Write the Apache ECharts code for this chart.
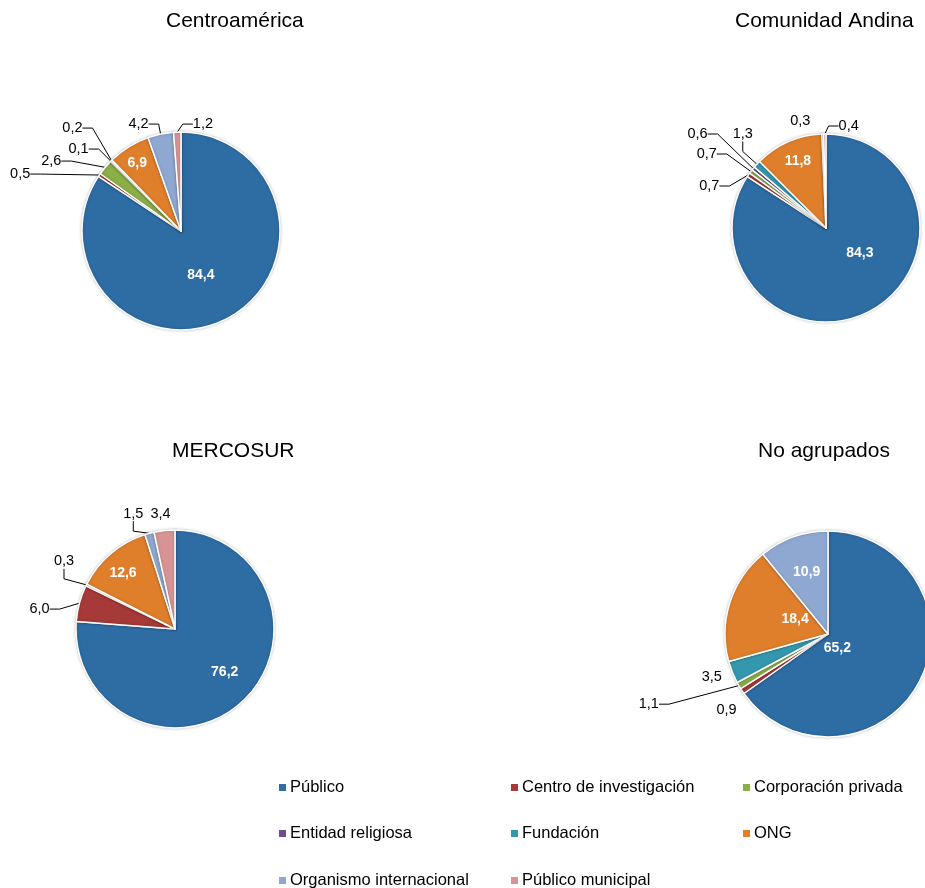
<!DOCTYPE html>
<html><head><meta charset="utf-8">
<script src="https://cdn.jsdelivr.net/npm/echarts@6/dist/echarts.min.js"></script>
<style>html,body{margin:0;padding:0;background:#fff}#c{width:925px;height:888px}</style>
</head><body><div id="c"></div>
<script>
// ---- data ----
const categories = ['Público','Centro de investigación','Corporación privada','Entidad religiosa','Fundación','ONG','Organismo internacional','Público municipal'];
const regions = ['Centroamérica','Comunidad Andina','MERCOSUR','No agrupados'];
const centroamerica   = [84.4, 0.5, 2.6, 0.1, 0.2, 6.9, 4.2, 1.2];
const comunidadAndina = [84.3, 0.7, 0.7, 0.6, 1.3, 11.8, 0.3, 0.4];
const mercosur        = [76.2, 6.0, 0, 0, 0.3, 12.6, 1.5, 3.4];
const noAgrupados     = [65.2, 0.9, 1.1, 0, 3.5, 18.4, 10.9, 0];
const regionValues = [centroamerica, comunidadAndina, mercosur, noAgrupados];

// ---- styles / layout ----
const colors = ['#2E6CA4','#A63A38','#8BAF47','#6E4D95','#3397AE','#DF7F2C','#8FA8D1','#D69594'];
const pieLayout = [
  {center:[181,231], radius:99,  titleLeft:166, titleTop:11},
  {center:[826,228], radius:94,  titleLeft:735, titleTop:11},
  {center:[175,629], radius:99,  titleLeft:172, titleTop:441},
  {center:[828,634], radius:103, titleLeft:758, titleTop:441}
];
// categories labelled inside (white bold) and their shift from default position
const insideShift = [
  {0:[-5,-2], 5:[-16,-23]},
  {0:[10,-19], 5:[-8,-21]},
  {0:[14,5], 5:[-18,-16]},
  {0:[-39,-11], 5:[19,2], 6:[-3,-11]}
];
// outside labels: shift from ECharts' default placement (like Excel's hand-placed labels)
const outsideShift = [
  {1:[-36,-35], 2:[-10,-31], 3:[9,-26], 4:[-10,-30], 6:[36,-17], 7:[51,0]},
  {1:[4,-25], 2:[-3,-40], 3:[-20,-43], 4:[13,-26], 6:[51,-22], 7:[49,0]},
  {1:[-12,8], 4:[5,-20], 6:[38,-26], 7:[22,-9]},
  {1:[16,1], 2:[-56,12], 4:[11,2]}
];
const noLine = [[], [6], [7], [1, 4]];
const legendCols = [279, 511, 743];
const legendRows = [787, 833, 880];
const FONT = 'Liberation Sans, Arial, sans-serif';

const fmt = v => v.toFixed(1).replace('.', ',');
const catOfItem = [];

const series = regionValues.map((vals, r) => {
  const data = [];
  catOfItem[r] = [];
  vals.forEach((v, i) => {
    if (!v) return;
    const shift = insideShift[r][i];
    const item = {name: categories[i], value: v, itemStyle: {color: colors[i]}};
    if (shift) {
      item.label = {position: 'inside', color: '#fff', fontWeight: 'bold', fontSize: 14, offset: shift};
      item.labelLine = {show: false};
    } else if (noLine[r].indexOf(i) >= 0) {
      item.labelLine = {show: false};
    }
    catOfItem[r].push(i);
    data.push(item);
  });
  return {
    type: 'pie',
    center: pieLayout[r].center,
    radius: pieLayout[r].radius,
    startAngle: 90,
    clockwise: true,
    avoidLabelOverlap: true,
    animation: false,
    itemStyle: {borderColor: '#fff', borderWidth: 1.5, shadowBlur: 3, shadowColor: 'rgba(0,0,0,0.22)'},
    label: {show: true, position: 'outside', formatter: p => fmt(p.value), color: '#000', fontSize: 14.5, fontFamily: FONT},
    labelLine: {show: true, length: 8, length2: 10, lineStyle: {color: '#000', width: 1}},
    labelLayout: function (p) {
      const cat = catOfItem[r][p.dataIndex];
      const s = outsideShift[r][cat];
      if (!s) return null;
      const rc = p.labelRect;
      return {x: rc.x + rc.width / 2 + s[0], y: rc.y + rc.height / 2 + s[1], align: 'center', verticalAlign: 'middle'};
    },
    emphasis: {disabled: true},
    data
  };
});

const titles = regions.map((t, r) => ({
  text: t, left: pieLayout[r].titleLeft, top: pieLayout[r].titleTop, padding: 0,
  textStyle: {fontFamily: FONT, fontSize: 21, fontWeight: 'normal', color: '#000'}
}));

const legends = categories.map((c, i) => ({
  data: [c], selectedMode: false, orient: 'horizontal', padding: 0,
  left: legendCols[i % 3], top: legendRows[Math.floor(i / 3)] - 8,
  icon: 'rect', itemWidth: 7, itemHeight: 7, itemGap: 0,
  itemStyle: {borderWidth: 0, shadowBlur: 0},
  textStyle: {fontFamily: FONT, fontSize: 16.5, color: '#000', padding: [0,0,0,-1]}
}));

const chart = echarts.init(document.getElementById('c'), null, {renderer: 'canvas'});
chart.setOption({
  backgroundColor: '#fff',
  animation: false,
  title: titles,
  legend: legends,
  series
});
</script></body></html>
